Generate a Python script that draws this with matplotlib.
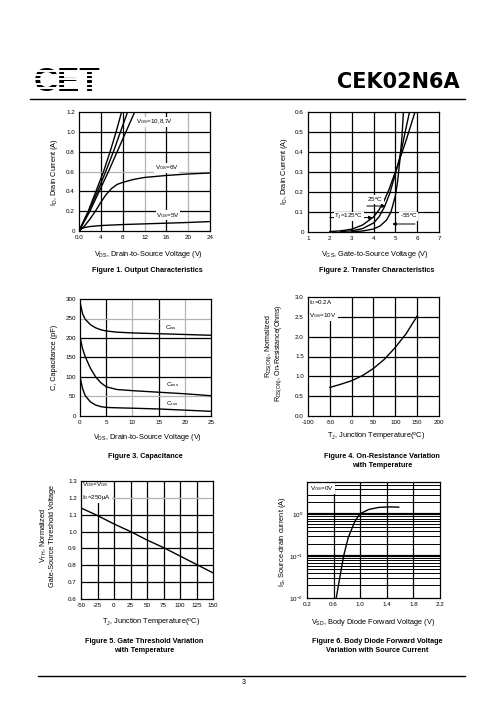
import matplotlib
matplotlib.use('Agg')
import matplotlib.pyplot as plt
from matplotlib.lines import Line2D

plt.rcParams['font.family'] = ['Liberation Sans', 'DejaVu Sans']
plt.rcParams['mathtext.fontset'] = 'custom'
plt.rcParams['mathtext.rm'] = 'Liberation Sans'
plt.rcParams['mathtext.it'] = 'Liberation Sans:italic'
plt.rcParams['mathtext.bf'] = 'Liberation Sans:bold'
plt.rcParams['axes.unicode_minus'] = False

# ---------------- data ----------------
# Figure 1: output characteristics
f1_vgs10_x = [0, 1.7, 3.1, 4.5, 5.7, 6.8, 7.8]
f1_vgs10_y = [0, 0.2, 0.4, 0.6, 0.8, 1.0, 1.2]
f1_vgs8_x = [0, 1.8, 3.4, 4.9, 6.3, 7.6, 8.9]
f1_vgs8_y = [0, 0.2, 0.4, 0.6, 0.8, 1.0, 1.2]
f1_vgs7_x = [0, 2.0, 3.7, 5.4, 7.0, 8.6, 10.2]
f1_vgs7_y = [0, 0.2, 0.4, 0.6, 0.8, 1.0, 1.2]
f1_vgs6_x = [0, 1, 2, 3, 4, 5, 6, 7, 8, 10, 12, 16, 20, 24]
f1_vgs6_y = [0, 0.05, 0.12, 0.2, 0.29, 0.37, 0.43, 0.47, 0.49, 0.52, 0.54, 0.56, 0.575, 0.585]
f1_vgs5_x = [0, 0.5, 1, 2, 4, 8, 12, 16, 20, 24]
f1_vgs5_y = [0, 0.025, 0.035, 0.045, 0.055, 0.065, 0.072, 0.079, 0.086, 0.095]
f1_xticks = [0, 4, 8, 12, 16, 20, 24]
f1_xlabels = ['0.0', '4', '8', '12', '16', '20', '24']
f1_yticks = [0, 0.2, 0.4, 0.6, 0.8, 1.0, 1.2]
f1_ylabels = ['0', '0.2', '0.4', '0.6', '0.8', '1.0', '1.2']

# Figure 2: transfer characteristics
f2_t125_x = [2.0, 2.5, 3.0, 3.5, 4.0, 4.25, 4.5, 4.7, 4.9, 5.1, 5.25, 5.5, 5.9]
f2_t125_y = [0.002, 0.006, 0.014, 0.035, 0.075, 0.11, 0.16, 0.21, 0.27, 0.33, 0.38, 0.46, 0.6]
f2_t25_x = [2.5, 3.0, 3.5, 4.0, 4.25, 4.5, 4.75, 5.0, 5.15, 5.3, 5.45, 5.65]
f2_t25_y = [0.002, 0.006, 0.017, 0.045, 0.075, 0.125, 0.195, 0.29, 0.35, 0.42, 0.5, 0.6]
f2_tm55_x = [3.0, 3.5, 4.0, 4.3, 4.6, 4.8, 5.0, 5.1, 5.2, 5.3, 5.37]
f2_tm55_y = [0.002, 0.005, 0.015, 0.03, 0.06, 0.1, 0.18, 0.25, 0.35, 0.47, 0.6]
f2_xticks = [1, 2, 3, 4, 5, 6, 7]
f2_yticks = [0, 0.1, 0.2, 0.3, 0.4, 0.5, 0.6]
f2_ylabels = ['0', '0.1', '0.2', '0.3', '0.4', '0.5', '0.6']

# Figure 3: capacitance
f3_vds = [0, 0.5, 1, 2, 3, 4, 5, 7, 10, 15, 20, 25]
f3_ciss = [292, 262, 248, 234, 226, 221, 218, 215, 213, 211, 209, 207]
f3_coss = [202, 172, 152, 122, 100, 85, 75, 68, 65, 61, 57, 52]
f3_crss = [100, 70, 52, 36, 28, 24, 22, 21, 20, 18, 15, 12]
f3_xticks = [0, 5, 10, 15, 20, 25]
f3_yticks = [0, 50, 100, 150, 200, 250, 300]

# Figure 4: on-resistance vs temperature
f4_tj = [-50, -25, 0, 25, 50, 75, 100, 125, 150]
f4_r = [0.72, 0.8, 0.89, 1.02, 1.2, 1.43, 1.73, 2.08, 2.52]
f4_xticks = [-100, -50, 0, 50, 100, 150, 200]
f4_yticks = [0.0, 0.5, 1.0, 1.5, 2.0, 2.5, 3.0]

# Figure 5: gate threshold vs temperature
f5_tj = [-50, -25, 0, 25, 50, 75, 100, 125, 150]
f5_vth = [1.14, 1.095, 1.045, 1.0, 0.95, 0.905, 0.855, 0.805, 0.755]
f5_xticks = [-50, -25, 0, 25, 50, 75, 100, 125, 150]
f5_yticks = [0.6, 0.7, 0.8, 0.9, 1.0, 1.1, 1.2, 1.3]

# Figure 6: body diode forward voltage
f6_vsd = [0.64, 0.69, 0.75, 0.82, 0.92, 1.0, 1.13, 1.28, 1.43, 1.58]
f6_is = [0.01, 0.029, 0.1, 0.28, 0.69, 1.05, 1.32, 1.48, 1.52, 1.5]
f6_xticks = [0.2, 0.6, 1.0, 1.4, 1.8, 2.2]
f6_yticks = [0.01, 0.1, 1]

# ---------------- figure ----------------
W, H = 496, 723
fig = plt.figure(figsize=(W / 100, H / 100), dpi=100)


def rect(x0, y0, x1, y1):
    return [x0 / W, 1 - y1 / H, (x1 - x0) / W, (y1 - y0) / H]


def fx(px):
    return px / W


def fy(py):
    return 1 - py / H


TICK = 4.5
LAB = 5.3
CAP = 5.2
GRAY = '#b4b4b4'


def style(ax, xticks, yticks, xlabels=None, ylabels=None, gray_x=(), gray_y=(), grid=True):
    ax.set_xlim(xticks[0], xticks[-1])
    ax.set_ylim(yticks[0], yticks[-1])
    ax.set_xticks(xticks)
    ax.set_yticks(yticks)
    if xlabels is not None:
        ax.set_xticklabels(xlabels)
    if ylabels is not None:
        ax.set_yticklabels(ylabels)
    if grid:
        for v in xticks[1:-1]:
            ax.axvline(v, color=GRAY if v in gray_x else 'black', lw=0.9, zorder=1)
        for v in yticks[1:-1]:
            ax.axhline(v, color=GRAY if v in gray_y else 'black', lw=0.9, zorder=1)
    ax.tick_params(length=0, labelsize=TICK, pad=3)
    for s in ax.spines.values():
        s.set_linewidth(0.9)
        s.set_zorder(5)


LW = 1.0

# ---- Figure 1 ----
ax1 = fig.add_axes(rect(79, 112, 210, 231))
style(ax1, f1_xticks, f1_yticks, f1_xlabels, f1_ylabels, gray_x=(12, 20), gray_y=(0.6,))
for xs, ys in [(f1_vgs10_x, f1_vgs10_y), (f1_vgs8_x, f1_vgs8_y), (f1_vgs7_x, f1_vgs7_y),
               (f1_vgs6_x, f1_vgs6_y), (f1_vgs5_x, f1_vgs5_y)]:
    ax1.plot(xs, ys, color='black', lw=LW, zorder=3, clip_on=True)
ax1.text(10.5, 1.1, r'V$_{\rm GS}$=10,8,7V', fontsize=TICK, va='center', zorder=4,
         bbox=dict(facecolor='white', edgecolor='none', pad=0.3))
ax1.text(13.9, 0.635, r'V$_{\rm GS}$=6V', fontsize=TICK, va='center', zorder=4,
         bbox=dict(facecolor='white', edgecolor='none', pad=0.3))
ax1.text(14.1, 0.16, r'V$_{\rm GS}$=5V', fontsize=TICK, va='center', zorder=4,
         bbox=dict(facecolor='white', edgecolor='none', pad=0.3))
fig.text(fx(55), fy(172), r'I$_{\rm D}$, Drain Current (A)', rotation=90, ha='center', va='center', fontsize=LAB)
fig.text(fx(149), fy(254), r'V$_{\rm DS}$, Drain-to-Source Voltage (V)', ha='center', va='center', fontsize=LAB)
fig.text(fx(147), fy(271), 'Figure 1. Output Characteristics', ha='center', va='center', fontsize=CAP, weight='bold')

# ---- Figure 2 ----
ax2 = fig.add_axes(rect(308, 112, 439, 232))
style(ax2, f2_xticks, f2_yticks, None, f2_ylabels)
for xs, ys in [(f2_t125_x, f2_t125_y), (f2_t25_x, f2_t25_y), (f2_tm55_x, f2_tm55_y)]:
    ax2.plot(xs, ys, color='black', lw=LW, zorder=3)
arr = dict(arrowstyle='-|>', color='black', lw=0.7, mutation_scale=5, shrinkA=0, shrinkB=0)
ax2.annotate('', xy=(3.95, 0.072), xytext=(2.0, 0.072), arrowprops=arr, zorder=4)
ax2.text(2.2, 0.078, r'T$_{\rm J}$=125$^{\rm o}$C', fontsize=TICK, va='center', zorder=5,
         bbox=dict(facecolor='white', edgecolor='none', pad=0.2))
ax2.annotate('', xy=(4.56, 0.13), xytext=(3.7, 0.13), arrowprops=arr, zorder=4)
ax2.text(3.72, 0.162, r'25$^{\rm o}$C', fontsize=TICK, va='center', zorder=5,
         bbox=dict(facecolor='white', edgecolor='none', pad=0.2))
ax2.annotate('', xy=(4.86, 0.04), xytext=(5.9, 0.04), arrowprops=arr, zorder=4)
ax2.text(5.2, 0.078, r'-55$^{\rm o}$C', fontsize=TICK, va='center', zorder=5,
         bbox=dict(facecolor='white', edgecolor='none', pad=0.2))
fig.text(fx(285), fy(171), r'I$_{\rm D}$, Drain Current (A)', rotation=90, ha='center', va='center', fontsize=LAB)
fig.text(fx(375), fy(254), r'V$_{\rm GS}$, Gate-to-Source Voltage (V)', ha='center', va='center', fontsize=LAB)
fig.text(fx(377), fy(271), 'Figure 2. Transfer Characteristics', ha='center', va='center', fontsize=CAP, weight='bold')

# ---- Figure 3 ----
ax3 = fig.add_axes(rect(80, 299, 211, 416))
style(ax3, f3_xticks, f3_yticks, gray_x=(10, 20), gray_y=(50, 250))
for ys in [f3_ciss, f3_coss, f3_crss]:
    ax3.plot(f3_vds, ys, color='black', lw=LW, zorder=3)
ax3.text(16.2, 226, r'C$_{\rm iss}$', fontsize=TICK, va='center', zorder=4)
ax3.text(16.4, 81, r'C$_{\rm oss}$', fontsize=TICK, va='center', zorder=4)
ax3.text(16.4, 31, r'C$_{\rm rss}$', fontsize=TICK, va='center', zorder=4)
fig.text(fx(54), fy(357), 'C, Capacitance (pF)', rotation=90, ha='center', va='center', fontsize=LAB)
fig.text(fx(148), fy(438), r'V$_{\rm DS}$, Drain-to-Source Voltage (V)', ha='center', va='center', fontsize=LAB)
fig.text(fx(145), fy(456), 'Figure 3. Capacitance', ha='center', va='center', fontsize=CAP, weight='bold')

# ---- Figure 4 ----
ax4 = fig.add_axes(rect(308, 297, 439, 416))
style(ax4, f4_xticks, f4_yticks, None, ['0.0', '0.5', '1.0', '1.5', '2.0', '2.5', '3.0'])
ax4.plot(f4_tj, f4_r, color='black', lw=LW, zorder=3)
ax4.text(-97, 2.7, 'I$_{\\rm D}$=0.2A\nV$_{\\rm GS}$=10V', fontsize=TICK, va='center', zorder=4,
         linespacing=1.6, bbox=dict(facecolor='white', edgecolor='none', pad=1.0))
fig.text(fx(268.5), fy(346), r'R$_{\rm DS(ON)}$, Normalized', rotation=90, ha='center', va='center', fontsize=5.0)
fig.text(fx(278.5), fy(353), r'R$_{\rm DS(ON)}$, On-Resistance(Ohms)', rotation=90, ha='center', va='center', fontsize=5.0)
fig.text(fx(376), fy(437), r'T$_{\rm J}$, Junction Temperature($^{\rm o}$C)', ha='center', va='center', fontsize=LAB)
fig.text(fx(382), fy(461), 'Figure 4. On-Resistance Variation\nwith Temperature', ha='center', va='center',
         fontsize=CAP, weight='bold', linespacing=1.25)

# ---- Figure 5 ----
ax5 = fig.add_axes(rect(81, 481, 213, 599))
style(ax5, f5_xticks, f5_yticks, None, ['0.6', '0.7', '0.8', '0.9', '1.0', '1.1', '1.2', '1.3'],
      gray_y=(1.2,))
ax5.plot(f5_tj, f5_vth, color='black', lw=LW, zorder=3)
ax5.text(-48, 1.24, 'V$_{\\rm DS}$=V$_{\\rm GS}$\nI$_{\\rm D}$=250\u00b5A', fontsize=TICK, va='center', zorder=4,
         linespacing=1.7, bbox=dict(facecolor='white', edgecolor='none', pad=0.8))
fig.text(fx(43.5), fy(536), r'V$_{\rm TH}$, Normalized', rotation=90, ha='center', va='center', fontsize=LAB)
fig.text(fx(52.5), fy(536), 'Gate-Source Threshold Voltage', rotation=90, ha='center', va='center', fontsize=LAB)
fig.text(fx(151), fy(623), r'T$_{\rm J}$, Junction Temperature($^{\rm o}$C)', ha='center', va='center', fontsize=LAB)
fig.text(fx(144), fy(646), 'Figure 5. Gate Threshold Variation\nwith Temperature', ha='center', va='center',
         fontsize=CAP, weight='bold', linespacing=1.25)

# ---- Figure 6 ----
ax6 = fig.add_axes(rect(307, 482, 440, 598))
ax6.set_yscale('log')
ax6.set_xlim(f6_xticks[0], f6_xticks[-1])
ax6.set_ylim(0.01, 6.0)
ax6.set_xticks(f6_xticks)
ax6.set_xticklabels(['0.2', '0.6', '1.0', '1.4', '1.8', '2.2'])
ax6.set_yticks(f6_yticks)
ax6.set_yticklabels(['10$^{-2}$', '10$^{-1}$', '10$^{0}$'])
ax6.minorticks_off()
ax6.tick_params(length=0, labelsize=TICK, pad=3)
for v in f6_xticks[1:-1]:
    ax6.axvline(v, color='black', lw=0.9, zorder=1)
for dec in [0.01, 0.1, 1.0]:
    for m in range(1, 10):
        v = dec * m
        if 0.01 < v < 6.0:
            ax6.axhline(v, color='black', lw=1.6 if m == 1 else 0.7, zorder=1)
for s in ax6.spines.values():
    s.set_linewidth(0.9)
    s.set_zorder(5)
ax6.plot(f6_vsd, f6_is, color='black', lw=LW, zorder=3)
ax6.text(0.24, 4.2, r'V$_{\rm GS}$=0V', fontsize=TICK, va='center', zorder=4,
         bbox=dict(facecolor='white', edgecolor='none', pad=1.0))
fig.text(fx(283), fy(542), r'I$_{\rm S}$, Source-drain current (A)', rotation=90, ha='center', va='center', fontsize=LAB)
fig.text(fx(373), fy(623), r'V$_{\rm SD}$, Body Diode Forward Voltage (V)', ha='center', va='center', fontsize=LAB)
fig.text(fx(377), fy(646), 'Figure 6. Body Diode Forward Voltage\nVariation with Source Current', ha='center',
         va='center', fontsize=CAP, weight='bold', linespacing=1.25)

# ---- page header / footer ----
fig.add_artist(Line2D([fx(30), fx(465)], [fy(98.5), fy(98.5)], color='black', lw=1.0))
fig.add_artist(Line2D([fx(38), fx(465)], [fy(676), fy(676)], color='black', lw=1.0))
fig.text(fx(460), fy(88.5), 'CEK02N6A', ha='right', va='baseline', fontsize=15, weight='bold',
         family='DejaVu Sans')
fig.text(fx(34), fy(91), 'CET', ha='left', va='baseline', fontsize=24, weight='bold')
for k in range(5):
    yy = 71.2 + 4.1 * k
    fig.add_artist(Line2D([fx(30), fx(110)], [fy(yy), fy(yy)], color='white', lw=1.4, zorder=10))
fig.text(fx(244), fy(682), '3', ha='center', va='center', fontsize=5)

fig.savefig('out.png', dpi=100)
